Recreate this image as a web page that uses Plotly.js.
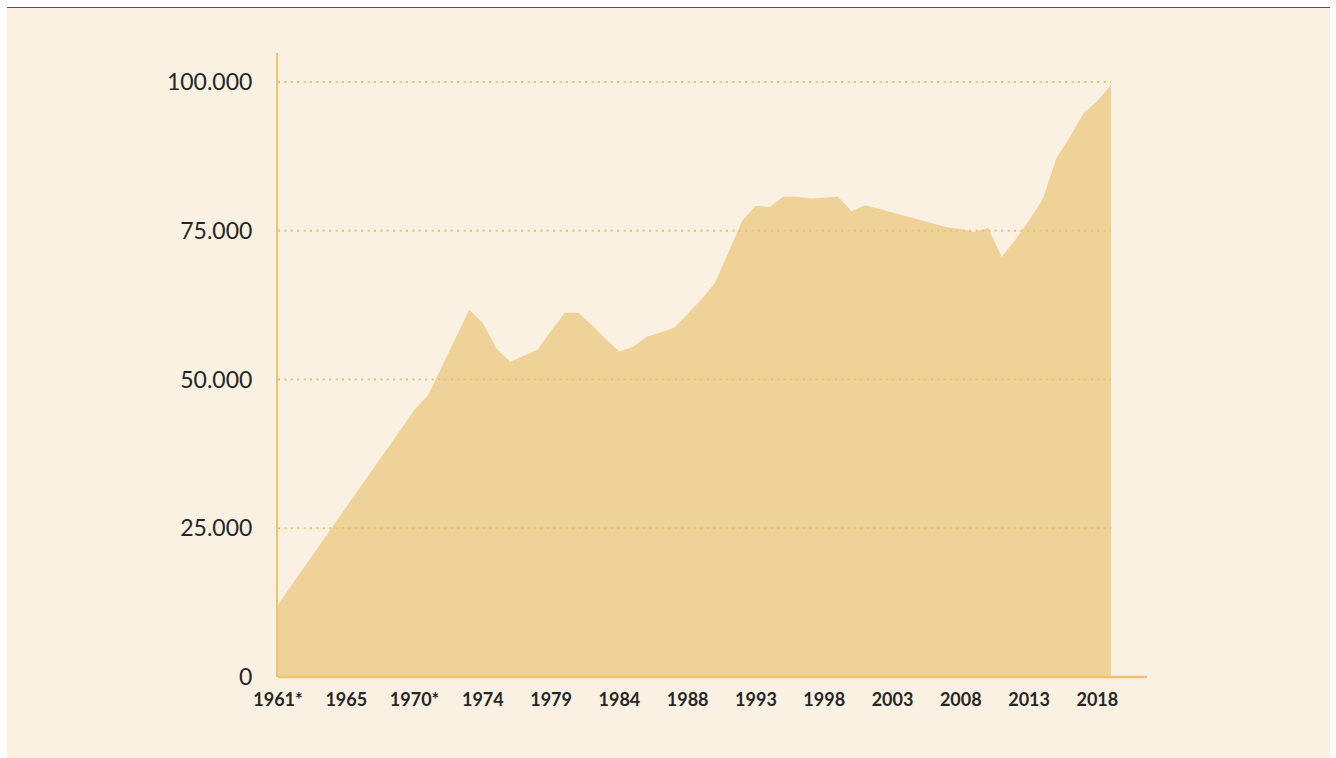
<!DOCTYPE html>
<html>
<head>
<meta charset="utf-8">
<script src="https://cdn.plot.ly/plotly-3.0.1.min.js"></script>
<style>
  body { margin: 0; background: #ffffff; }
  #panel {
    position: absolute; left: 7px; top: 7px; width: 1323px; height: 751px;
    background: #fbf1e3; border-top: 1.5px solid #555555;
  }
  #chart { position: absolute; left: 0; top: 0; width: 1336px; height: 758px; }
</style>
</head>
<body>
<div id="panel"></div>
<div id="chart"></div>
<script>
// tick labels, one for every fifth period on the axis
const tickLabels = ['1961*', '1965', '1970*', '1974', '1979', '1984', '1988',
                    '1993', '1998', '2003', '2008', '2013', '2018'];

// one value per period (62 periods); no data between 1961* and 1970*
const values = [
  12200, null, null, null, null, null, null, null, null, null,
  44900, 47400, 52200, 56900, 61700, 59500, 55200, 53000, 54000, 55000,
  58200, 61200, 61200, 59100, 56800, 54700, 55500, 57200, 57900, 58700,
  61000, 63500, 66200, 71300, 76700, 79200, 79000, 80700, 80700, 80400,
  80500, 80700, 78300, 79300, 78700, 78100, 77500, 76900, 76200, 75600,
  75300, 74800, 75500, 70600, 73500, 76700, 80300, 87200, 90800, 94800,
  96800, 99500
];

const yTicks = [0, 25000, 50000, 75000, 100000];

const gold = '#efc46c';
const gridGold = '#f0c060';
const fillColor = '#efd298';

const trace = {
  x: values.map((v, i) => i),
  y: values,
  type: 'scatter',
  mode: 'lines',
  fill: 'tozeroy',
  fillcolor: fillColor,
  line: { width: 0, color: fillColor },
  connectgaps: true,
  hoverinfo: 'y'
};

// dotted grid lines drawn over the area, as in the original
const gridShapes = yTicks.filter(v => v > 0).map(v => ({
  type: 'line', xref: 'paper', yref: 'y',
  x0: 0, x1: 1, y0: v, y1: v,
  line: { color: gridGold, width: 2, dash: '2px,4.4px' },
  layer: 'above'
}));

const layout = {
  width: 1336,
  height: 758,
  margin: { l: 278, r: 225, t: 53, b: 80.5 },
  paper_bgcolor: 'rgba(0,0,0,0)',
  plot_bgcolor: 'rgba(0,0,0,0)',
  separators: ',.',
  showlegend: false,
  font: { family: 'Lato, "Open Sans", sans-serif', color: '#262626' },
  xaxis: {
    range: [0, values.length - 1],
    tickvals: tickLabels.map((t, i) => i * 5),
    ticktext: tickLabels,
    tickfont: { size: 18, weight: 'bold', color: '#262626' },
    ticklabelstandoff: 10,
    showgrid: false,
    zeroline: false,
    showline: false,
    ticks: '',
    fixedrange: true
  },
  yaxis: {
    range: [0, 104870],
    tickvals: yTicks,
    tickformat: ',d',
    tickfont: { size: 23, color: '#262626' },
    ticklabelstandoff: 19,
    showgrid: false,
    zeroline: false,
    showline: true,
    linecolor: gold,
    linewidth: 2,
    ticks: '',
    fixedrange: true
  },
  shapes: gridShapes.concat([
    // x axis line, running a little past the last period
    {
      type: 'line', xref: 'paper', yref: 'paper',
      x0: 0, x1: 1.0432, y0: 0, y1: 0,
      line: { color: gold, width: 2.5 },
      layer: 'above'
    }
  ])
};

Plotly.newPlot('chart', [trace], layout, { displayModeBar: false, staticPlot: true });
</script>
</body>
</html>
